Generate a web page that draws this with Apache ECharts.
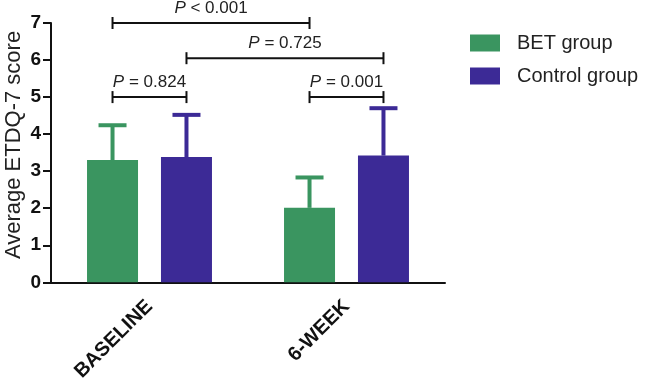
<!DOCTYPE html>
<html>
<head>
<meta charset="utf-8">
<script src="https://cdn.jsdelivr.net/npm/echarts@6/dist/echarts.min.js"></script>
<style>html,body{margin:0;padding:0;background:#fff}#chart{width:645px;height:384px}</style>
</head>
<body>
<div id="chart"></div>
<script>
// ---- data ----
const categories = ['BASELINE', '6-WEEK'];
const seriesNames = ['BET group', 'Control group'];
const betMeans = [3.30, 2.01];
const betErr = [0.94, 0.82];
const ctrlMeans = [3.38, 3.42];
const ctrlErr = [1.14, 1.28];
const yTicks = [0, 1, 2, 3, 4, 5, 6, 7];
const yTitle = 'Average ETDQ-7 score';
// brackets: from [category, series] to [category, series], height, p-text
const bracketFrom = [[0, 0], [0, 1], [0, 0], [1, 0]];
const bracketTo = [[1, 0], [1, 1], [0, 1], [1, 1]];
const bracketY = [7.0, 6.05, 5.0, 5.0];
const bracketText = ['< 0.001', '= 0.725', '= 0.824', '= 0.001'];

// ---- style ----
const FONT = "'Liberation Sans', Arial, sans-serif";
const GREEN = '#3A9560';
const PURPLE = '#3C2A96';
const BAR_W = 51;
const GAP_RATIO = 0.45;
const HALF = (BAR_W + BAR_W * GAP_RATIO) / 2;
const seriesOffset = [-HALF, HALF];

const chart = echarts.init(document.getElementById('chart'), null, {renderer: 'canvas'});

function errRender(off, color) {
  return function (params, api) {
    const cat = api.value(0), v = api.value(1), e = api.value(2);
    const b = api.coord([cat, v]);
    const t = api.coord([cat, v + e]);
    const x = b[0] + off;
    return {
      type: 'group',
      children: [
        {type: 'line', shape: {x1: x, y1: b[1], x2: x, y2: t[1]}, style: {stroke: color, lineWidth: 4}},
        {type: 'line', shape: {x1: x - 14, y1: t[1], x2: x + 14, y2: t[1]}, style: {stroke: color, lineWidth: 4}}
      ]
    };
  };
}

function bracketRender(params, api) {
  const i = params.dataIndex;
  const f = bracketFrom[i], to = bracketTo[i];
  const p1 = api.coord([f[0], bracketY[i]]);
  const p2 = api.coord([to[0], bracketY[i]]);
  const x1 = p1[0] + seriesOffset[f[1]];
  const x2 = p2[0] + seriesOffset[to[1]];
  const y = p1[1];
  const st = {stroke: '#111', lineWidth: 2};
  return {
    type: 'group',
    children: [
      {type: 'line', shape: {x1: x1, y1: y, x2: x2, y2: y}, style: st},
      {type: 'line', shape: {x1: x1, y1: y - 6, x2: x1, y2: y + 6}, style: st},
      {type: 'line', shape: {x1: x2, y1: y - 6, x2: x2, y2: y + 6}, style: st},
      {type: 'text', x: (x1 + x2) / 2, y: y - 15, style: {
        text: '{i|P} ' + bracketText[i],
        align: 'center', verticalAlign: 'middle',
        fontSize: 17, fontFamily: FONT, fill: '#222',
        rich: {i: {fontStyle: 'italic', fontSize: 17, fontFamily: FONT, fill: '#222'}}
      }}
    ]
  };
}

chart.setOption({
  animation: false,
  backgroundColor: '#fff',
  textStyle: {fontFamily: FONT},
  grid: {left: 51, right: 200, top: 23, bottom: 99, containLabel: false},
  graphic: [{
    type: 'text',
    x: 14, y: 145,
    rotation: Math.PI / 2,
    style: {text: yTitle, align: 'center', verticalAlign: 'middle', fontSize: 22, fontFamily: FONT, fill: '#222'}
  }],
  legend: {
    data: seriesNames,
    orient: 'vertical',
    left: 470, top: 33,
    padding: 0,
    itemWidth: 30, itemHeight: 17, itemGap: 13,
    icon: 'rect',
    textStyle: {fontSize: 20, color: '#222', fontFamily: FONT, padding: [0, 0, 0, 12]}
  },
  xAxis: {
    type: 'category',
    data: categories,
    axisLine: {lineStyle: {color: '#111', width: 2}},
    axisTick: {alignWithLabel: true, length: 7, lineStyle: {color: '#111', width: 2}},
    axisLabel: {rotate: 45, fontSize: 20, fontWeight: 'bold', color: '#111', margin: 21, fontFamily: FONT}
  },
  yAxis: {
    type: 'value',
    min: yTicks[0], max: yTicks[yTicks.length - 1], interval: 1,
    axisLine: {show: true, lineStyle: {color: '#111', width: 2}},
    axisTick: {show: true, length: 8, lineStyle: {color: '#111', width: 2}},
    axisLabel: {fontSize: 19, fontWeight: 'bold', color: '#111', margin: 10, fontFamily: FONT},
    splitLine: {show: false}
  },
  series: [
    {name: seriesNames[0], type: 'bar', data: betMeans, barWidth: BAR_W, barGap: (GAP_RATIO * 100) + '%', itemStyle: {color: GREEN}, z: 3},
    {name: seriesNames[1], type: 'bar', data: ctrlMeans, barWidth: BAR_W, barGap: (GAP_RATIO * 100) + '%', itemStyle: {color: PURPLE}, z: 3},
    {type: 'custom', renderItem: errRender(seriesOffset[0], GREEN), data: betMeans.map((v, i) => [i, v, betErr[i]]), z: 2},
    {type: 'custom', renderItem: errRender(seriesOffset[1], PURPLE), data: ctrlMeans.map((v, i) => [i, v, ctrlErr[i]]), z: 2},
    {type: 'custom', renderItem: bracketRender, data: bracketY.map((y, i) => [bracketFrom[i][0], y]), z: 4, clip: false}
  ]
});
</script>
</body>
</html>
